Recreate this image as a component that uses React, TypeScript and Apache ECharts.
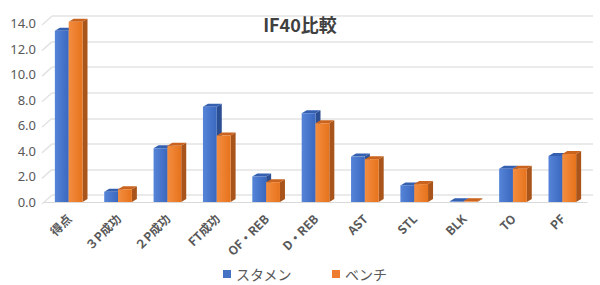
import React, { useEffect, useRef } from "react";
import * as echarts from "echarts";

const categories = ["得点", "３P成功", "２P成功", "FT成功", "OF・REB", "D・REB", "AST", "STL", "BLK", "TO", "PF"];
const starters = [13.4, 0.8, 4.2, 7.45, 2.0, 6.95, 3.55, 1.3, 0.05, 2.6, 3.6];
const bench = [14.1, 1.0, 4.4, 5.2, 1.55, 6.15, 3.35, 1.4, 0.05, 2.6, 3.75];
const yTicks = [0, 2, 4, 6, 8, 10, 12, 14];
const seriesNames = ["スタメン", "ベンチ"];

const DX = 5;
const DY = -3;

function makeBarRenderer(offsetIndex: number, front: any, side: string, top: string) {
  return (params: any, api: any) => {
    const cat = api.value(0);
    const val = api.value(1);
    const base = api.coord([cat, 0]);
    const tp = api.coord([cat, val]);
    const band = api.size([1, 0])[0];
    const w = band * 0.28;
    const x0 = base[0] - w + offsetIndex * w;
    const yT = tp[1];
    const yB = base[1];
    return {
      type: "group",
      children: [
        {
          type: "polygon",
          shape: { points: [[x0 + w, yT], [x0 + w + DX, yT + DY], [x0 + w + DX, yB + DY], [x0 + w, yB]] },
          style: { fill: side },
        },
        {
          type: "polygon",
          shape: { points: [[x0, yT], [x0 + DX, yT + DY], [x0 + w + DX, yT + DY], [x0 + w, yT]] },
          style: { fill: top },
        },
        {
          type: "rect",
          shape: { x: x0, y: yT, width: w, height: Math.max(yB - yT, 0) },
          style: { fill: front },
        },
      ],
    };
  };
}

export default function App() {
  const ref = useRef<HTMLDivElement>(null);
  useEffect(() => {
    if (!ref.current) return;
    document.body.style.margin = "0";
    const chart = echarts.init(ref.current, null, { renderer: "svg" });
    const blueGrad = new echarts.graphic.LinearGradient(0, 0, 1, 0, [
      { offset: 0, color: "#5584d8" },
      { offset: 1, color: "#3b68bf" },
    ]);
    const orangeGrad = new echarts.graphic.LinearGradient(0, 0, 1, 0, [
      { offset: 0, color: "#f38d40" },
      { offset: 1, color: "#e7731c" },
    ]);
    chart.setOption({
      animation: false,
      backgroundColor: "#ffffff",
      title: {
        text: "IF40比較",
        left: "center",
        top: 10,
        textStyle: { fontSize: 18, fontWeight: "bold", color: "#404040", fontFamily: "Noto Sans CJK JP" },
      },
      legend: {
        data: seriesNames,
        top: 262,
        left: 218,
        itemWidth: 8,
        itemHeight: 8,
        itemGap: 40,
        icon: "rect",
        textStyle: { fontSize: 14, color: "#595959", fontFamily: "Noto Sans CJK JP" },
      },
      grid: [
        { left: 52, right: 7, top: 16, bottom: 90 },
        { left: 44, right: 13, top: 23, bottom: 83 },
      ],
      xAxis: [
        { gridIndex: 0, type: "category", data: categories, show: false },
        {
          gridIndex: 1,
          type: "category",
          data: categories,
          axisLine: { show: true, lineStyle: { color: "#d9d9d9" } },
          axisTick: { show: false },
          axisLabel: {
            rotate: 45,
            margin: 14,
            fontSize: 12,
            fontWeight: "bold",
            color: "#595959",
            fontFamily: "Noto Sans CJK JP",
          },
        },
      ],
      yAxis: [
        {
          gridIndex: 0,
          type: "value",
          min: 0,
          max: 14,
          interval: 2,
          axisLabel: { show: false },
          axisLine: { show: false },
          axisTick: { show: false },
          splitLine: { show: true, lineStyle: { color: "#e3e3e3", width: 1.5 } },
        },
        {
          gridIndex: 1,
          type: "value",
          min: 0,
          max: 14,
          interval: 2,
          axisLine: { show: false },
          axisTick: { show: false },
          splitLine: { show: false },
          axisLabel: {
            margin: 8,
            fontSize: 13,
            color: "#595959",
            fontFamily: "Noto Sans",
            formatter: (v: number) => v.toFixed(1),
          },
        },
      ],
      series: [
        {
          type: "custom",
          name: "ticks",
          xAxisIndex: 1,
          yAxisIndex: 1,
          silent: true,
          data: yTicks.map((v) => [0, v]),
          encode: { x: 0, y: 1 },
          renderItem: (params: any, api: any) => {
            const p = api.coord([0, api.value(1)]);
            const x = params.coordSys.x;
            return {
              type: "line",
              shape: { x1: x - 2, y1: p[1] + 2, x2: x + 8, y2: p[1] - 7 },
              style: { stroke: "#e3e3e3", lineWidth: 1.5 },
            };
          },
        },
        {
          type: "custom",
          name: seriesNames[0],
          xAxisIndex: 1,
          yAxisIndex: 1,
          itemStyle: { color: "#4472c4" },
          data: starters.map((v, i) => [i, v]),
          encode: { x: 0, y: 1 },
          renderItem: makeBarRenderer(0, blueGrad, "#2c4f94", "#3560b0"),
        },
        {
          type: "custom",
          name: seriesNames[1],
          xAxisIndex: 1,
          yAxisIndex: 1,
          itemStyle: { color: "#ed7d31" },
          data: bench.map((v, i) => [i, v]),
          encode: { x: 0, y: 1 },
          renderItem: makeBarRenderer(1, orangeGrad, "#a9541a", "#c9631e"),
        },
      ],
    });
    return () => chart.dispose();
  }, []);
  return <div ref={ref} style={{ width: 600, height: 285 }} />;
}
